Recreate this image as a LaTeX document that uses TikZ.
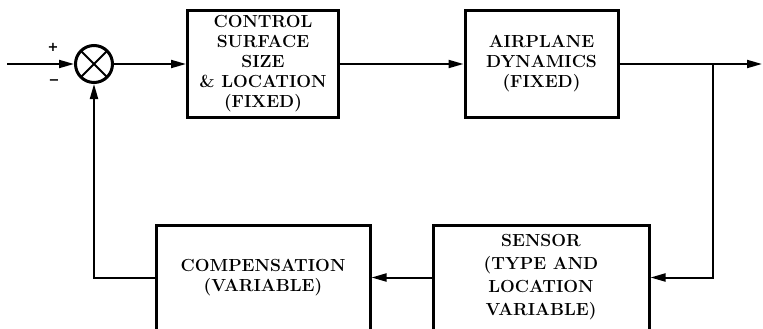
\documentclass[tikz,border=0pt]{standalone}
\usepackage{fontspec}
\newfontfamily\signfont{DejaVu Sans}
\usetikzlibrary{arrows.meta}
\begin{document}
\begin{tikzpicture}[x=1pt,y=-1pt,
  blk/.style={draw,line width=3pt,inner sep=0pt,align=center,font=\bfseries\fontsize{17.5}{20}\selectfont},
  conn/.style={line width=2pt},
  arr/.style={conn,-{Triangle[length=15pt,width=8pt]}},
  sgn/.style={inner sep=0pt,font=\signfont\bfseries\fontsize{13}{13}\selectfont},
  sumj/.style={circle,draw,line width=3pt,minimum size=37pt,inner sep=0pt,
    path picture={\draw[line width=2pt] (path picture bounding box.north west) -- (path picture bounding box.south east)
      (path picture bounding box.north east) -- (path picture bounding box.south west);}}]
\useasboundingbox (0,0) rectangle (763,329);
\clip (0,0) rectangle (763,329);
\node[sumj] (sum) at (94,64) {};
\node[blk,minimum width=151pt,minimum height=106pt] (b1) at (263,64) {CONTROL\\SURFACE\\SIZE\\\& LOCATION\\(FIXED)};
\node[blk,minimum width=153pt,minimum height=106pt] (b2) at (541.5,64) {AIRPLANE\\DYNAMICS\\(FIXED)};
\node[blk,minimum width=216pt,minimum height=105pt,font=\bfseries\fontsize{17.5}{23}\selectfont] (sen) at (541,277.5) {SENSOR\\(TYPE AND\\LOCATION\\VARIABLE)};
\node[blk,minimum width=214pt,minimum height=105pt] (comp) at (263,277.5) {COMPENSATION\\(VARIABLE)};
\node[sgn] (plus) at (53,47) {+};
\node[sgn] (minus) at (54,82) {−};
\coordinate (in) at (7,64);
\coordinate (out) at (762,64);
\coordinate (br) at (713,64);
\draw[arr] (in) -- (sum);
\draw[arr] (sum) -- (b1);
\draw[arr] (b1) -- (b2);
\draw[arr] (b2.east) -- (out);
\draw[arr] (br) |- (sen.east);
\draw[arr] (sen) -- (comp);
\draw[arr] (comp.west) -| (sum.south);
\end{tikzpicture}
\end{document}
